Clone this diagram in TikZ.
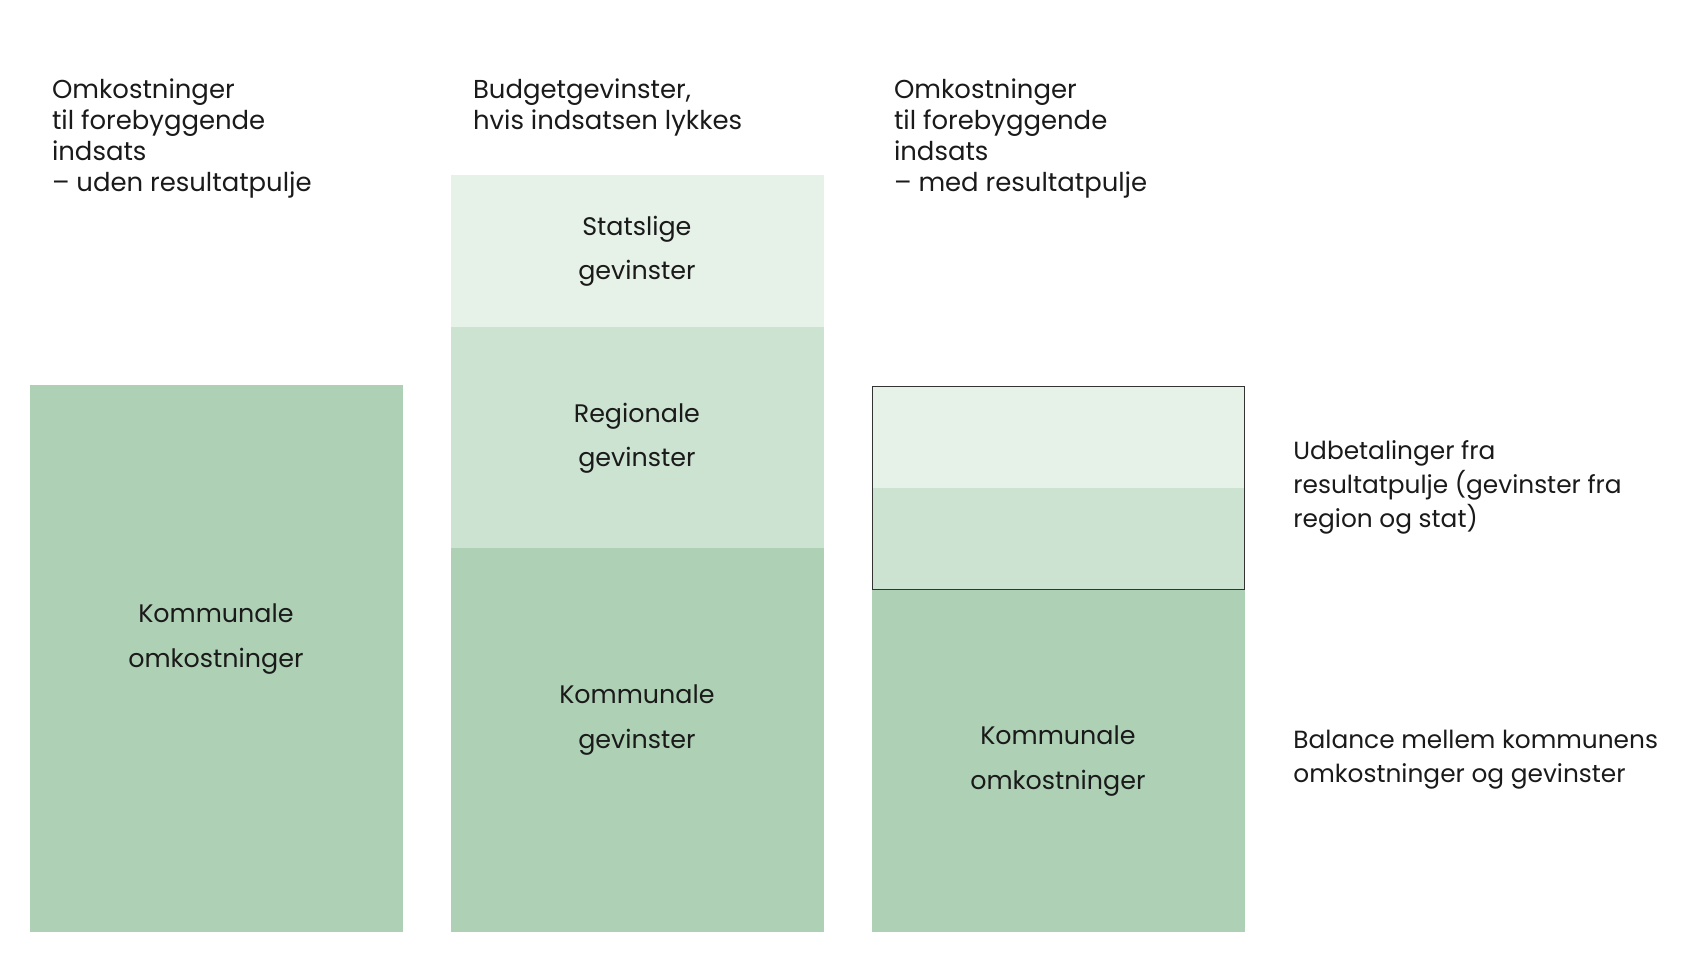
\documentclass[tikz,border=0pt]{standalone}
\usepackage{fontspec}
\setmainfont{Poppins}
\definecolor{gdark}{HTML}{AED0B4}
\definecolor{gmid}{HTML}{CDE3D1}
\definecolor{glight}{HTML}{E6F1E8}
\definecolor{ink}{HTML}{1A1A1A}
\begin{document}
\begin{tikzpicture}[x=1pt,y=-1pt,
  lbl/.style={text=ink,font=\fontsize{23.5}{41}\selectfont,align=center},
  ttl/.style={text=ink,font=\fontsize{24}{28.7}\selectfont,align=left,anchor=north west,inner sep=0pt},
  side/.style={text=ink,font=\fontsize{23}{31.5}\selectfont,align=left,anchor=north west,inner sep=0pt}]
\useasboundingbox (0,0) rectangle (1560,902);
% bar 1
\fill[gdark] (28,357) rectangle (373,863);
\node[lbl] (k1) at (200,592) {Kommunale\\omkostninger};
% bar 2
\fill[glight] (418,162) rectangle (763,303);
\fill[gmid] (418,303) rectangle (763,508);
\fill[gdark] (418,508) rectangle (763,863);
\node[lbl] (s2) at (590,233) {Statslige\\gevinster};
\node[lbl] (r2) at (590,406) {Regionale\\gevinster};
\node[lbl] (k2) at (590,667) {Kommunale\\gevinster};
% bar 3
\fill[glight] (808,358) rectangle (1153,452);
\fill[gmid] (808,452) rectangle (1153,546);
\fill[gdark] (808,546) rectangle (1153,863);
\draw[line width=1.3pt,color=black!80] (808,358) rectangle (1153,546);
\node[lbl] (k3) at (980,705) {Kommunale\\omkostninger};
% titles
\node[ttl] (t1) at (48,73) {Omkostninger\\til forebyggende\\indsats\\– uden resultatpulje};
\node[ttl] (t2) at (438,73) {Budgetgevinster,\\hvis indsatsen lykkes};
\node[ttl] (t3) at (828,73) {Omkostninger\\til forebyggende\\indsats\\– med resultatpulje};
% side notes
\node[side] (n1) at (1198,408) {Udbetalinger fra\\resultatpulje (gevinster fra\\region og stat)};
\node[side] (n2) at (1198,676) {Balance mellem kommunens\\omkostninger og gevinster};
\end{tikzpicture}
\end{document}
